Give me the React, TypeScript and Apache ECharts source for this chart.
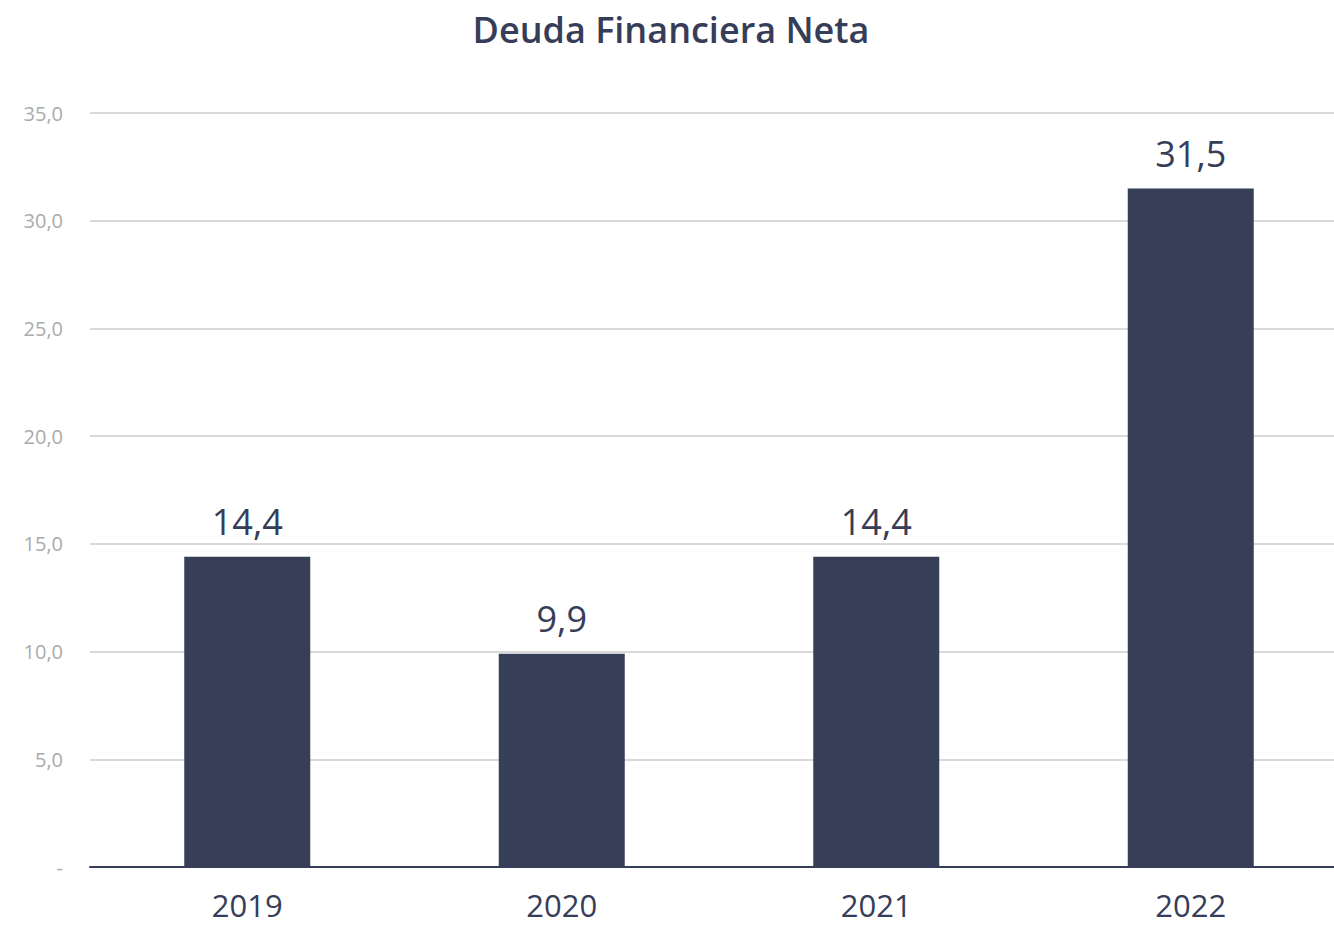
import React, { useEffect, useRef } from "react";
import * as echarts from "echarts";

const categories = ["2019", "2020", "2021", "2022"];
const values = [14.4, 9.9, 14.4, 31.5];
const yTicks = { min: 0, max: 35, interval: 5 };
const title = "Deuda Financiera Neta";

const fmt = (v: number) => (v === 0 ? "-" : v.toFixed(1).replace(".", ","));
const FONT = "Open Sans";

export default function App() {
  const ref = useRef<HTMLDivElement>(null);
  useEffect(() => {
    if (!ref.current) return;
    const chart = echarts.init(ref.current, undefined, { renderer: "svg" });
    chart.setOption({
      animation: false,
      backgroundColor: "#ffffff",
      title: {
        text: title,
        left: 666,
        textAlign: "center",
        top: 6,
        textStyle: { fontFamily: FONT, fontSize: 36, fontWeight: 600, color: "#363d58" },
      },
      grid: { left: 90, top: 113, width: 1258, height: 754, containLabel: false },
      xAxis: {
        type: "category",
        data: categories,
        axisLine: { lineStyle: { color: "#363d58", width: 2 } },
        axisTick: { show: false },
        axisLabel: { fontFamily: FONT, fontSize: 31, lineHeight: 31, color: "#363d58", margin: 22 },
      },
      yAxis: {
        type: "value",
        min: yTicks.min,
        max: yTicks.max,
        interval: yTicks.interval,
        axisLine: { show: false },
        axisTick: { show: false },
        splitLine: { lineStyle: { color: "#d9d9d9", width: 2 } },
        axisLabel: {
          fontFamily: FONT,
          fontSize: 20,
          color: "#ababab",
          margin: 27,
          formatter: (v: number) => fmt(v),
        },
      },
      series: [
        {
          type: "bar",
          data: values,
          barWidth: 126,
          itemStyle: { color: "#373e58" },
          label: {
            show: true,
            position: "top",
            distance: 17,
            fontFamily: FONT,
            fontSize: 36,
            color: "#363d58",
            formatter: (p: any) => fmt(p.value),
          },
        },
      ],
    });
    return () => chart.dispose();
  }, []);
  return (
    <div style={{ position: "absolute", left: 0, top: 0, width: 1334, height: 926, overflow: "hidden" }}>
      <div ref={ref} style={{ width: 1348, height: 926 }} />
    </div>
  );
}
